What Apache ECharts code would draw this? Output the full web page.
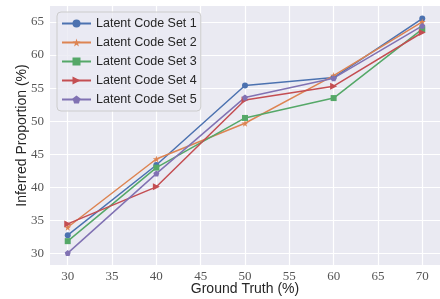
<!DOCTYPE html>
<html>
<head>
<meta charset="utf-8">
<script src="https://cdn.jsdelivr.net/npm/echarts@6/dist/echarts.min.js"></script>
<style>
  html, body { margin: 0; padding: 0; background: #fff; }
  #chart { width: 440px; height: 299px; }
</style>
</head>
<body>
<div id="chart"></div>
<script>
var groundTruth = [30, 40, 50, 60, 70];
var set1 = [32.8, 43.4, 55.4, 56.6, 65.5];
var set2 = [34.0, 44.3, 49.7, 56.9, 65.0];
var set3 = [31.9, 43.0, 50.5, 53.5, 63.9];
var set4 = [34.5, 40.1, 53.2, 55.3, 63.4];
var set5 = [30.1, 42.1, 53.6, 56.5, 64.4];
var seriesNames = ['Latent Code Set 1', 'Latent Code Set 2', 'Latent Code Set 3', 'Latent Code Set 4', 'Latent Code Set 5'];
var xTicks = [30, 35, 40, 45, 50, 55, 60, 65, 70];
var yTicks = [30, 35, 40, 45, 50, 55, 60, 65];

var colors = ['#4c72b0', '#dd8452', '#55a868', '#c44e52', '#8172b3'];
var starPath = 'path://M50,0 L61,35 L98,35 L68,57 L79,91 L50,70 L21,91 L32,57 L2,35 L39,35 Z';
var pentPath = 'path://M50,0 L98,35 L79,91 L21,91 L2,35 Z';
var symbols = ['circle', starPath, 'rect', 'triangle', pentPath];
var sizes = [6, 7, 6, 7, 6];
var rotates = [0, 0, 0, -90, 0];

var chart = echarts.init(document.getElementById('chart'));
var allSets = [set1, set2, set3, set4, set5];

var series = allSets.map(function(vals, i) {
    return {
        name: seriesNames[i],
        type: 'line',
        data: vals.map(function(v, j) { return [groundTruth[j], v]; }),
        symbol: symbols[i],
        symbolSize: sizes[i],
        symbolRotate: rotates[i],
        showAllSymbol: true,
        lineStyle: { width: 1.5, color: colors[i] },
        itemStyle: { color: colors[i] },
        animation: false
    };
});

var serif = 'Liberation Serif';
var sans = 'Liberation Sans';

var option = {
    backgroundColor: '#ffffff',
    color: colors,
    grid: {
        left: 50,
        right: 0,
        top: 6,
        bottom: 34,
        outerBoundsMode: 'none',
        show: true,
        backgroundColor: '#eaeaf2',
        borderWidth: 0
    },
    legend: {
        orient: 'vertical',
        left: 57,
        top: 12,
        itemWidth: 29,
        itemHeight: 10,
        itemGap: 6,
        padding: [5, 4, 5, 4],
        backgroundColor: 'rgba(234,234,242,0.8)',
        borderColor: '#cccccc',
        borderWidth: 1,
        borderRadius: 4,
        textStyle: { fontFamily: sans, fontSize: 12.5, color: '#262626' },
        data: seriesNames
    },
    xAxis: {
        type: 'value',
        min: 28,
        max: 72,
        name: 'Ground Truth (%)',
        nameLocation: 'middle',
        nameGap: 17,
        nameMoveOverlap: false,
        nameTextStyle: { fontFamily: sans, fontSize: 14, color: '#262626', verticalAlign: 'top' },
        axisLine: { show: false },
        axisTick: { show: false, customValues: xTicks },
        axisLabel: { customValues: xTicks, fontFamily: serif, fontSize: 13, color: '#555555', margin: 5 },
        splitLine: { show: true, lineStyle: { color: '#ffffff', width: 1.2 } }
    },
    yAxis: {
        type: 'value',
        min: 28.3,
        max: 67.4,
        name: 'Inferred Proportion (%)',
        nameLocation: 'middle',
        nameGap: 21,
        nameMoveOverlap: false,
        nameTextStyle: { fontFamily: sans, fontSize: 14, color: '#262626' },
        axisLine: { show: false },
        axisTick: { show: false, customValues: yTicks },
        axisLabel: { customValues: yTicks, fontFamily: serif, fontSize: 13, color: '#555555', margin: 6 },
        splitLine: { show: true, lineStyle: { color: '#ffffff', width: 1.2 } }
    },
    series: series
};

chart.setOption(option);
</script>
</body>
</html>
